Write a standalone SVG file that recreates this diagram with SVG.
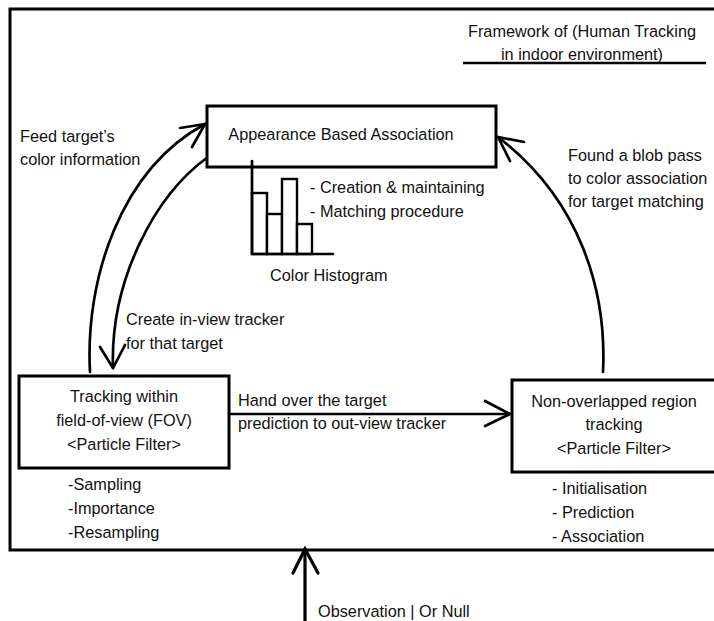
<svg xmlns="http://www.w3.org/2000/svg" width="714" height="621" viewBox="0 0 714 621">
<style>
text{font-family:"Liberation Sans",Arial,Helvetica,sans-serif;font-size:16.3px;fill:#111}
.c{text-anchor:middle}
.box{fill:#fff;stroke:#000;stroke-width:3}
.ln{fill:none;stroke:#000;stroke-width:2.7;stroke-linecap:round;stroke-linejoin:round}
.thk{fill:none;stroke:#000;stroke-width:3.2;stroke-linecap:round;stroke-linejoin:miter}
.bar{fill:#fff;stroke:#000;stroke-width:2.4}
</style>
<rect width="714" height="621" fill="#fff"/>
<g id="frame">
<rect x="10" y="9" width="720" height="541" fill="none" stroke="#000" stroke-width="3"/>
<text class="c" x="582" y="37">Framework of (Human Tracking</text>
<text class="c" x="582" y="60">in indoor environment)</text>
<line x1="463" y1="63" x2="706" y2="63" stroke="#000" stroke-width="2.4"/>
</g>
<g id="connectors">
<path class="ln" d="M90,372 C85,280 120,170 205,124"/>
<polyline class="ln" points="180,128 205,124 192,147"/>
<path class="ln" d="M208,157 C155,195 110,280 113,368"/>
<polyline class="ln" points="100,347 113,368 125,345"/>
<path class="ln" d="M603,372 C607,290 580,200 498,137"/>
<polyline class="ln" points="524,142 498,137 510,161"/>
<line class="ln" x1="229" y1="414" x2="508" y2="414"/>
<polyline class="ln" points="485,401 510,414 485,426"/>
<line class="thk" x1="305" y1="621" x2="305" y2="549"/>
<polyline class="thk" points="293,573 305,549 318,573"/>
<text x="20" y="142">Feed target’s</text>
<text x="20" y="165">color information</text>
<text x="568" y="161">Found a blob pass</text>
<text x="568" y="184">to color association</text>
<text x="568" y="207">for target matching</text>
<text x="126" y="325">Create in-view tracker</text>
<text x="126" y="349">for that target</text>
<text x="238" y="406">Hand over the target</text>
<text x="238" y="429">prediction to out-view tracker</text>
<text x="318" y="617">Observation | Or Null</text>
</g>
<g id="appearance">
<rect class="box" x="207" y="106" width="289" height="61"/>
<text class="c" x="341" y="140">Appearance Based Association</text>
</g>
<g id="histogram">
<rect class="bar" x="252" y="193" width="15" height="61"/>
<rect class="bar" x="267" y="214" width="15" height="40"/>
<rect class="bar" x="282" y="179" width="15" height="75"/>
<rect class="bar" x="297" y="224" width="15" height="30"/>
<path class="ln" d="M252,161 V254 H333"/>
<text x="310" y="193">- Creation &amp; maintaining</text>
<text x="310" y="217">- Matching procedure</text>
<text x="270" y="281">Color Histogram</text>
</g>
<g id="fov">
<rect class="box" x="19" y="376" width="210" height="92"/>
<text class="c" x="124" y="402">Tracking within</text>
<text class="c" x="124" y="426">field-of-view (FOV)</text>
<text class="c" x="124" y="450">&lt;Particle Filter&gt;</text>
<text x="68" y="490">-Sampling</text>
<text x="68" y="514">-Importance</text>
<text x="68" y="538">-Resampling</text>
</g>
<g id="nonoverlap">
<rect class="box" x="512" y="380" width="210" height="92"/>
<text class="c" x="614" y="407">Non-overlapped region</text>
<text class="c" x="614" y="430">tracking</text>
<text class="c" x="614" y="454">&lt;Particle Filter&gt;</text>
<text x="552" y="494">- Initialisation</text>
<text x="552" y="518">- Prediction</text>
<text x="552" y="542">- Association</text>
</g>
</svg>
